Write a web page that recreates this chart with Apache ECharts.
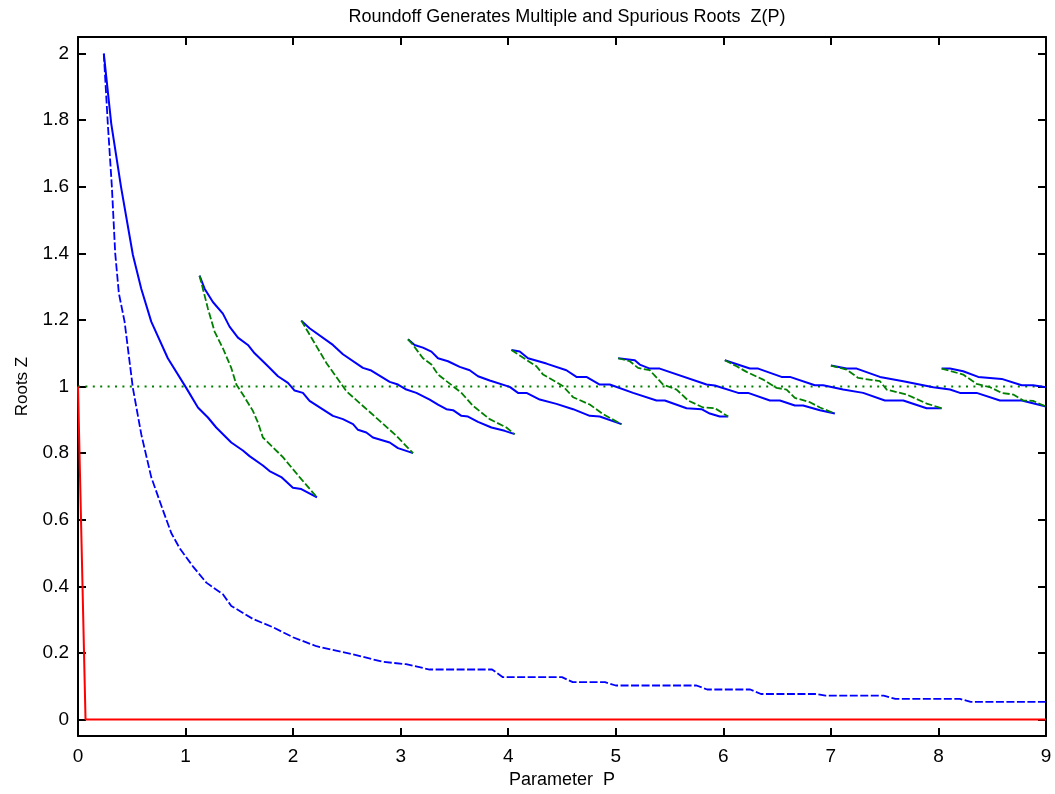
<!DOCTYPE html>
<html>
<head>
<meta charset="utf-8">
<script src="https://cdn.jsdelivr.net/npm/echarts@6/dist/echarts.min.js"></script>
<style>
html,body{margin:0;padding:0;background:#fff;}
#chart{width:1055px;height:794px;}
</style>
</head>
<body>
<div id="chart"></div>
<script>
// ---- data ----
const titleText = 'Roundoff Generates Multiple and Spurious Roots  Z(P)';
const xName = 'Parameter  P';
const yName = 'Roots Z';
const yTickValues = [0, 0.2, 0.4, 0.6, 0.8, 1, 1.2, 1.4, 1.6, 1.8, 2];

const redLine = [[0, 1], [0.07, 0], [9, 0]];
const unitLine = [[0, 1], [9, 1]];

const lowerRoot = [[0.24,2.0],[0.277,1.79],[0.315,1.60],[0.346,1.40],[0.38,1.28],[0.433,1.195],[0.51,0.996],[0.588,0.857],[0.681,0.728],[0.789,0.629],[0.867,0.56],[0.944,0.515],[1.068,0.46],[1.193,0.411],[1.347,0.376],[1.425,0.341],[1.626,0.302],[1.812,0.277],[1.998,0.247],[2.216,0.220],[2.526,0.198],[2.835,0.173],[3.05,0.166],[3.27,0.15],[3.85,0.15],[3.95,0.127],[4.5,0.127],[4.6,0.112],[4.9,0.112],[5.0,0.102],[5.75,0.102],[5.85,0.09],[6.25,0.09],[6.35,0.0765],[6.87,0.0765],[6.95,0.0714],[7.49,0.0714],[7.6,0.0616],[8.2,0.0616],[8.3,0.0527],[9,0.0527]];

const blue1 = [[0.24,2.0],[0.309,1.79],[0.40,1.60],[0.51,1.396],[0.588,1.294],[0.681,1.195],[0.835,1.085],[1.006,0.996],[1.115,0.937],[1.208,0.907],[1.285,0.877],[1.425,0.832],[1.533,0.808],[1.595,0.791],[1.719,0.763],[1.781,0.746],[1.89,0.728],[1.998,0.696],[2.076,0.692],[2.222,0.667]];
const green1 = [[1.130,1.333],[1.161,1.294],[1.208,1.234],[1.270,1.165],[1.347,1.115],[1.425,1.056],[1.472,1.006],[1.533,0.976],[1.626,0.927],[1.673,0.892],[1.719,0.847],[1.905,0.788],[2.06,0.728],[2.222,0.667]];
const blue2 = [[1.130,1.333],[1.177,1.294],[1.254,1.254],[1.347,1.219],[1.409,1.18],[1.487,1.147],[1.580,1.125],[1.642,1.10],[1.75,1.066],[1.859,1.031],[1.952,1.011],[2.014,0.988],[2.091,0.981],[2.153,0.957],[2.37,0.912],[2.463,0.902],[2.557,0.887],[2.603,0.870],[2.681,0.862],[2.742,0.847],[2.898,0.832],[2.975,0.815],[3.115,0.80]];
const green2 = [[2.076,1.198],[2.309,1.071],[2.495,0.986],[2.805,0.897],[2.96,0.852],[3.115,0.80]];
const blue3 = [[2.076,1.198],[2.153,1.175],[2.37,1.125],[2.463,1.097],[2.649,1.056],[2.727,1.048],[2.898,1.014],[2.975,1.006],[3.053,0.991],[3.146,0.981],[3.27,0.961],[3.347,0.946],[3.425,0.932],[3.487,0.929],[3.565,0.912],[3.626,0.910],[3.719,0.894],[3.844,0.877],[3.967,0.867],[4.06,0.857]];
const green3 = [[3.068,1.142],[3.115,1.125],[3.207,1.085],[3.286,1.066],[3.347,1.036],[3.487,1.001],[3.565,0.981],[3.673,0.942],[3.828,0.902],[3.983,0.877],[4.06,0.857]];
const blue4 = [[3.068,1.142],[3.130,1.125],[3.207,1.117],[3.286,1.105],[3.347,1.085],[3.44,1.076],[3.549,1.059],[3.642,1.049],[3.719,1.031],[3.828,1.018],[4.014,0.999],[4.091,0.981],[4.17,0.981],[4.293,0.961],[4.448,0.948],[4.603,0.932],[4.758,0.912],[4.851,0.910],[5.053,0.887]];
const green4 = [[4.03,1.110],[4.076,1.10],[4.17,1.080],[4.262,1.061],[4.324,1.036],[4.433,1.016],[4.51,1.001],[4.603,0.968],[4.758,0.946],[4.882,0.917],[5.053,0.887]];
const blue5 = [[4.03,1.110],[4.107,1.105],[4.184,1.085],[4.355,1.069],[4.541,1.049],[4.634,1.029],[4.727,1.029],[4.851,1.006],[4.944,1.006],[5.161,0.981],[5.379,0.958],[5.456,0.958],[5.658,0.935],[5.797,0.932],[5.874,0.919],[5.967,0.910],[6.045,0.910]];
const green5 = [[5.022,1.085],[5.13,1.076],[5.207,1.056],[5.316,1.049],[5.44,1.006],[5.565,0.991],[5.673,0.958],[5.812,0.937],[5.921,0.935],[6.045,0.910]];
const blue6 = [[5.022,1.085],[5.177,1.079],[5.223,1.066],[5.316,1.054],[5.409,1.054],[5.844,1.006],[5.921,1.003],[6.138,0.981],[6.23,0.981],[6.433,0.958],[6.526,0.958],[6.665,0.943],[6.742,0.943],[6.898,0.929],[7.037,0.919]];
const green6 = [[6.014,1.079],[6.123,1.061],[6.216,1.044],[6.37,1.021],[6.495,0.996],[6.588,0.991],[6.665,0.966],[6.805,0.953],[6.898,0.937],[7.037,0.919]];
const blue7 = [[6.014,1.079],[6.247,1.054],[6.324,1.054],[6.541,1.029],[6.619,1.029],[6.851,1.004],[6.928,1.004],[7.114,0.991],[7.30,0.981],[7.502,0.958],[7.673,0.958],[7.89,0.935],[8.03,0.935]];
const green7 = [[7.0,1.063],[7.146,1.051],[7.254,1.026],[7.456,1.016],[7.518,0.991],[7.704,0.976],[7.89,0.949],[8.03,0.935]];
const blue8 = [[7.0,1.063],[7.146,1.054],[7.24,1.054],[7.456,1.029],[7.673,1.016],[7.952,0.998],[8.107,0.991],[8.2,0.981],[8.355,0.981],[8.572,0.958],[8.774,0.958],[9.0,0.940]];
const green8 = [[8.03,1.054],[8.23,1.036],[8.355,1.008],[8.48,0.998],[8.588,0.981],[8.696,0.976],[8.789,0.958],[8.88,0.957],[9.0,0.940]];
const blue9 = [[8.03,1.054],[8.107,1.054],[8.23,1.046],[8.37,1.029],[8.588,1.023],[8.774,1.004],[8.88,1.004],[9.0,0.998]];

const blueSolids = [blue1, blue2, blue3, blue4, blue5, blue6, blue7, blue8, blue9];
const greenDashes = [green1, green2, green3, green4, green5, green6, green7, green8];

// ---- chart ----
const FONT = 'Liberation Sans, Arial, Helvetica, sans-serif';
const chart = echarts.init(document.getElementById('chart'), null, {renderer: 'canvas'});

function lineSeries(data, color, type, width) {
  return {
    type: 'line', data: data, showSymbol: false, symbol: 'none', silent: true,
    animation: false, clip: true, z: 2,
    lineStyle: {color: color, width: width, type: type}
  };
}

const series = [];
series.push(lineSeries(unitLine, '#008000', [2, 5.4], 2));
series.push(lineSeries(redLine, '#ff0000', 'solid', 2));
series.push(lineSeries(lowerRoot, '#0000ff', [8, 2.5], 1.8));
blueSolids.forEach(d => series.push(lineSeries(d, '#0000ff', 'solid', 2)));
greenDashes.forEach(d => series.push(lineSeries(d, '#008000', [7, 2.5], 1.8)));

const axisLineStyle = {show: true, onZero: false, lineStyle: {color: '#000', width: 2}};
const tickStyle = {show: true, inside: true, length: 8, lineStyle: {color: '#000', width: 2}};

chart.setOption({
  backgroundColor: '#fff',
  animation: false,
  title: {
    text: titleText, left: 562, top: 3, textAlign: 'center',
    textStyle: {fontFamily: FONT, fontSize: 18, fontWeight: 'normal', color: '#000'}
  },
  grid: {left: 78, right: 9, top: 37, bottom: 54, containLabel: false},
  xAxis: [{
    type: 'value', min: 0, max: 9, interval: 1, position: 'bottom',
    axisLine: axisLineStyle, axisTick: tickStyle,
    axisLabel: {fontFamily: FONT, fontSize: 19, color: '#000', margin: 11},
    splitLine: {show: false},
    name: xName, nameLocation: 'middle', nameGap: 24,
    nameTextStyle: {fontFamily: FONT, fontSize: 18, color: '#000'}
  }, {
    type: 'value', min: 0, max: 9, interval: 1, position: 'top',
    axisLine: axisLineStyle, axisTick: tickStyle,
    axisLabel: {show: false}, splitLine: {show: false}
  }],
  yAxis: [{
    type: 'value', min: -0.05, max: 2.05, position: 'left',
    axisLine: axisLineStyle,
    axisTick: Object.assign({}, tickStyle, {customValues: yTickValues}),
    axisLabel: {fontFamily: FONT, fontSize: 19, color: '#000', margin: 9, customValues: yTickValues},
    splitLine: {show: false},
    name: yName, nameLocation: 'middle', nameGap: 47,
    nameTextStyle: {fontFamily: FONT, fontSize: 17, color: '#000'}
  }, {
    type: 'value', min: -0.05, max: 2.05, position: 'right',
    axisLine: axisLineStyle,
    axisTick: Object.assign({}, tickStyle, {customValues: yTickValues}),
    axisLabel: {show: false}, splitLine: {show: false}
  }],
  series: series
});
</script>
</body>
</html>
